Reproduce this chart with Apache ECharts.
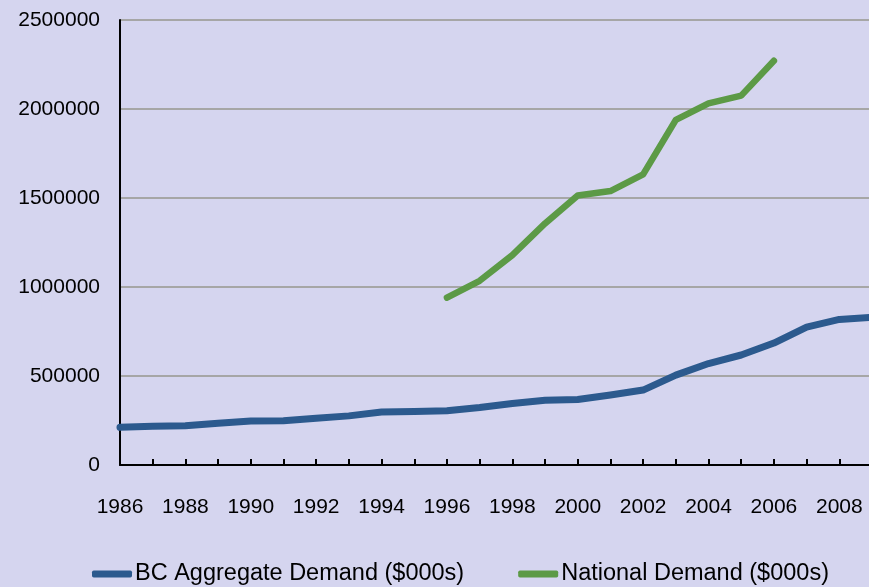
<!DOCTYPE html>
<html>
<head>
<meta charset="utf-8">
<script src="https://cdn.jsdelivr.net/npm/echarts@6/dist/echarts.min.js"></script>
<style>
html,body{margin:0;padding:0;background:#d5d5ef;}
#chart{width:869px;height:587px;}
</style>
</head>
<body>
<div id="chart"></div>
<script>
const years = ['1986','1987','1988','1989','1990','1991','1992','1993','1994','1995','1996','1997','1998','1999','2000','2001','2002','2003','2004','2005','2006','2007','2008','2009'];
const bcDemand = [212000,218000,220000,235000,247000,248000,262000,276000,298000,301000,305000,323000,346000,364000,368000,393000,421000,505000,570000,618000,685000,775000,818000,830000];
const nationalDemand = [null,null,null,null,null,null,null,null,null,null,940000,1035000,1179000,1357000,1514000,1539000,1633000,1939000,2032000,2075000,2271000,null,null,null];
const seriesNames = ['BC Aggregate Demand ($000s)','National Demand ($000s)'];

const FONT = "'Liberation Sans',Arial,sans-serif";
const chart = echarts.init(document.getElementById('chart'));
chart.setOption({
  backgroundColor: '#d5d5ef',
  animation: false,
  grid: {left: 120, right: -3, top: 20, bottom: 122, containLabel: false, outerBoundsMode: 'none'},
  legend: {
    left: 87, top: 557,
    itemWidth: 40, itemHeight: 7, itemGap: 54,
    icon: 'roundRect',
    textStyle: {fontFamily: FONT, fontSize: 23.5, color: '#000', padding: [0,0,0,-2]},
    data: seriesNames
  },
  xAxis: {
    type: 'category',
    data: years,
    boundaryGap: false,
    axisLine: {lineStyle: {color: '#000', width: 2}},
    axisTick: {show: true, inside: true, length: 6, interval: 0, lineStyle: {color: '#000', width: 2}},
    axisLabel: {interval: 1, margin: 32, fontFamily: FONT, fontSize: 21, color: '#000'},
    splitLine: {show: false}
  },
  yAxis: {
    type: 'value',
    min: 0, max: 2500000, interval: 500000,
    axisLine: {show: true, lineStyle: {color: '#000', width: 2}},
    axisTick: {show: false},
    axisLabel: {margin: 20, fontFamily: FONT, fontSize: 21, color: '#000', formatter: v => String(v)},
    splitLine: {lineStyle: {color: '#a6a6a6', width: 2}}
  },
  series: [
    {name: seriesNames[0], type: 'line', data: bcDemand, symbol: 'none',
     lineStyle: {color: '#2c5a8e', width: 7, cap: 'round', join: 'round'}, itemStyle: {color: '#2c5a8e'}},
    {name: seriesNames[1], type: 'line', data: nationalDemand, symbol: 'none',
     lineStyle: {color: '#5c9a46', width: 6.5, cap: 'round', join: 'round'}, itemStyle: {color: '#5c9a46'}}
  ]
});
</script>
</body>
</html>
